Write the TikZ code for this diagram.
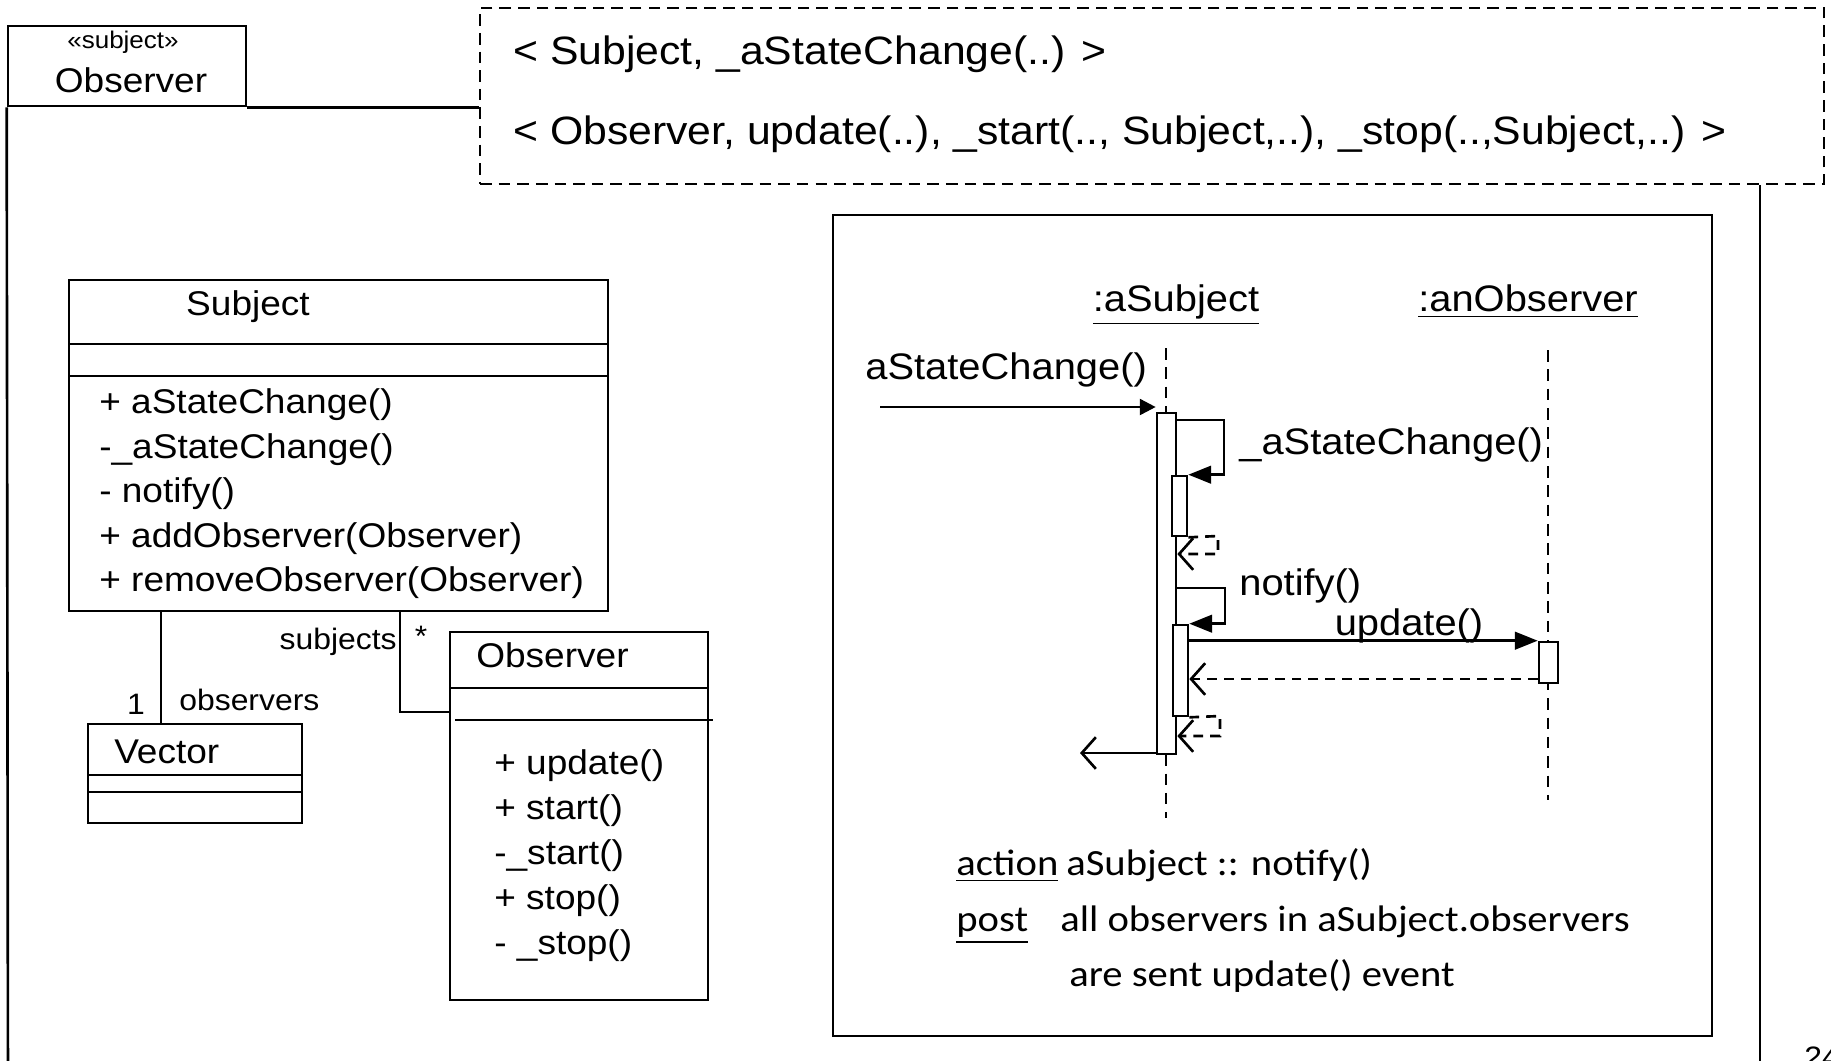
\documentclass[tikz,border=0pt]{standalone}
\usepackage{fontspec}
\setmainfont{Liberation Sans}[FakeStretch=1.08]
\newfontfamily\handfont{Carlito}[FakeStretch=1.1]
\usetikzlibrary{positioning, arrows.meta, fit}
\newcommand{\tplfont}{\fontsize{11.25}{13}\selectfont}
\newcommand{\clsfont}{\fontsize{9.75}{11}\selectfont}
\newcommand{\seqfont}{\fontsize{10.5}{12}\selectfont}
\newcommand{\smlfont}{\fontsize{8.4}{10}\selectfont}
\newcommand{\stfont}{\fontsize{6.85}{8}\selectfont}
\newcommand{\handtxt}{\handfont\fontsize{10.5}{12}\selectfont}

\begin{document}
\begin{tikzpicture}[x=0.01cm, y=-0.01cm, line width=0.75pt,
        box/.style={draw, inner sep=0pt},
        bar/.style={draw, fill=white, inner sep=0pt},
        cls/.style={inner sep=0pt, font=\clsfont},
        sml/.style={inner sep=0pt, font=\smlfont},
        seqtxt/.style={inner sep=0pt, font=\seqfont},
        hand/.style={inner sep=0pt, font=\handtxt},
        life/.style={line width=0.8pt, dash pattern=on 3.3pt off 2.2pt},
        call/.style={-{Triangle[length=6.5pt, width=5pt]}},
        ret/.style={dash pattern=on 2.8pt off 2pt, -{Straight Barb[length=4pt, width=9pt]}},
        back/.style={-{Straight Barb[length=4pt, width=9pt]}}]
      \useasboundingbox (0,0) rectangle (1831,1060);
      % template parameters
      \node[box, dash pattern=on 3.3pt off 2pt, fit={(480,8) (1824,184)}] (tpl) {};
      \node[anchor=west, inner sep=0pt, font=\tplfont] (tpla) at (512,54) {< Subject, \_aStateChange(..) >};
      \node[anchor=west, inner sep=0pt, font=\tplfont] (tplb) at (512,134) {< Observer, update(..), \_start(.., Subject,..), \_stop(..,Subject,..) >};
      % outer class
      \node[box, fit={(8,26) (246,106)}] (hdr) {};
      \node[inner sep=0pt, font=\stfont] (stereo) at (123,42) {«subject»};
      \node[cls] (hdrname) at (131,80) {Observer};
      \draw (hdr.south east) -- (tpl.west |- hdr.south);
      \draw (hdr.south west) -- (8,1100);
      \draw (tpl.south -| 1760,0) -- (1760,1100);
      % Subject class
      \node[box, fit={(69,280) (608,611)}] (subj) {};
      \draw (69,344) -- (608,344);
      \draw (69,376) -- (608,376);
      \node[cls] (subjname) at (248,307) {Subject};
      \foreach \t [count=\i] in {+ aStateChange(), -\_aStateChange(), - notify(), + addObserver(Observer), + removeObserver(Observer)}
        \node[cls, anchor=west] (sm\i) at (98,{360.5+44.5*\i}) {\t};
      % Observer class
      \node[box, fit={(450,632) (708,1000)}] (obs) {};
      \draw (450,688) -- (708,688);
      \draw (455,720) -- (713,720);
      \node[cls, anchor=west] (obsname) at (475,655) {Observer};
      \foreach \t [count=\i] in {+ update(), + start(), -\_start(), + stop(), - \_stop()}
        \node[cls, anchor=west] (om\i) at (493,{721+45*\i}) {\t};
      % Vector class
      \node[box, fit={(88,724) (302,823)}] (vec) {};
      \draw (88,775) -- (302,775);
      \draw (88,792) -- (302,792);
      \node[cls, anchor=west] (vecname) at (113,752) {Vector};
      % associations
      \draw (subj.south -| 161,0) -- (vec.north -| 161,0);
      \draw (subj.south -| 400,0) |- (obs.west |- 0,712);
      \node[sml, anchor=east] (lsubjects) at (398,642) {subjects};
      \node[sml] (lstar) at (421,636) {*};
      \node[sml] (lone) at (136,704) {1};
      \node[sml, anchor=west] (lobservers) at (178,700) {observers};
      % sequence diagram
      \node[box, fit={(833,215) (1712,1036)}] (seq) {};
      \node[seqtxt, anchor=base] (ls) at (1176,311) {\underline{:aSubject}};
      \node[seqtxt, anchor=base] (lo) at (1528,311) {\underline{:anObserver}};
      \coordinate (s0) at (1166,348);
      \coordinate (s1) at (1166,818);
      \coordinate (o0) at (1548,350);
      \coordinate (o1) at (1548,800);
      \draw[life] (s0) -- (s1);
      \draw[life] (o0) -- (o1);
      \node[bar, fit={(1157,413) (1176,754)}] (act) {};
      \node[bar, fit={(1172,476) (1187,536)}] (actA) {};
      \node[bar, fit={(1173,625) (1188,716)}] (actB) {};
      \node[bar, fit={(1539,642) (1558,683)}] (actO) {};
      \coordinate (in) at (880,407);
      \draw[-{Triangle[length=4.5pt, width=4.5pt]}] (in) -- (act.west |- in);
      \node[seqtxt, anchor=west] (lin) at (864,370) {aStateChange()};
      \draw[call] (act.east |- 0,420) -- (1224,420) |- (actA.north east);
      \node[seqtxt, anchor=west] (lA) at (1238,445) {\_aStateChange()};
      \draw[ret] (actA.south east) -- (1218,536) |- (act.east |- 0,554);
      \draw[call] (act.east |- 0,588) -- (1225,588) |- (actB.north east);
      \node[seqtxt, anchor=west] (lB) at (1238,586) {notify()};
      \draw[call] (actB.east |- actO.north west) -- (actO.north west);
      \node[seqtxt] (lupd) at (1409,626) {update()};
      \draw[ret] (actO.west |- 0,679) -- (actB.east |- 0,679);
      \draw[ret] (actB.south east) -- (1220,716) |- (act.east |- 0,736);
      \coordinate (out) at (1080,753);
      \draw[back] (act.west |- out) -- (out);
      % constraint text
      \node[hand, anchor=base west] (kact) at (955,875) {\underline{action}};
      \node[hand, anchor=base west] (kactb) at (1065,875) {aSubject :: notify()};
      \node[hand, anchor=base west] (kpost) at (955,931) {\underline{post}};
      \node[hand, anchor=base west] (kpostb) at (1059,931) {all observers in aSubject.observers};
      \node[hand, anchor=base west] (kpostc) at (1068,986) {are sent update() event};
      % page number
      \node[sml, anchor=north west] (pg) at (1803,1046) {24};
    \end{tikzpicture}
\end{document}
